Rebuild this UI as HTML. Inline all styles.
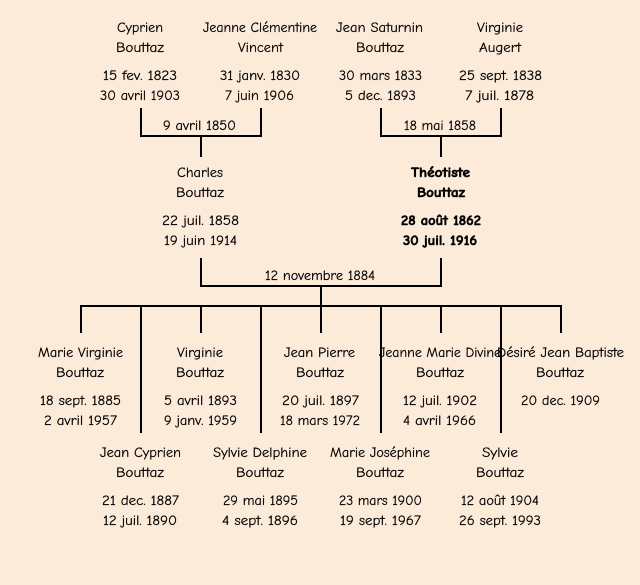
<!DOCTYPE html>
<html><head><meta charset="utf-8"><style>
html,body{margin:0;padding:0;background:#fdebd9}
svg{display:block}
text{font-family:"Comic Sans MS","Comic Neue","Liberation Sans",sans-serif;font-size:14px;fill:#000;stroke:#000;stroke-width:.2px;text-anchor:start}
.b{font-weight:bold;stroke-width:.55px}
</style></head><body>
<svg xmlns="http://www.w3.org/2000/svg" width="640" height="585" viewBox="0 0 640 585">
<rect width="640" height="585" fill="#fdebd9"/>
<g fill="#000">
<rect x="140" y="108" width="2" height="29"/><rect x="260" y="108" width="2" height="29"/><rect x="140" y="135" width="122" height="2"/><rect x="200" y="137" width="2" height="20"/>
<rect x="380" y="108" width="2" height="29"/><rect x="500" y="108" width="2" height="29"/><rect x="380" y="135" width="122" height="2"/><rect x="440" y="137" width="2" height="20"/>
<rect x="200" y="258" width="2" height="29"/><rect x="440" y="258" width="2" height="29"/><rect x="200" y="285" width="242" height="2"/><rect x="320" y="287" width="2" height="20"/>
<rect x="80" y="305" width="482" height="2"/>
<rect x="80" y="307" width="2" height="26"/><rect x="200" y="307" width="2" height="26"/><rect x="320" y="307" width="2" height="26"/><rect x="440" y="307" width="2" height="26"/><rect x="560" y="307" width="2" height="26"/>
<rect x="140" y="307" width="2" height="126"/><rect x="260" y="307" width="2" height="126"/><rect x="380" y="307" width="2" height="126"/><rect x="500" y="307" width="2" height="126"/>
</g>
<g>
<text x="117" y="32" textLength="46" lengthAdjust="spacingAndGlyphs">Cyprien</text>
<text x="116" y="52" textLength="48" lengthAdjust="spacingAndGlyphs">Bouttaz</text>
<text x="103" y="80" textLength="74" lengthAdjust="spacingAndGlyphs">15 fev. 1823</text>
<text x="100" y="100" textLength="80" lengthAdjust="spacingAndGlyphs">30 avril 1903</text>
<text x="203" y="32" textLength="114" lengthAdjust="spacingAndGlyphs">Jeanne Clémentine</text>
<text x="238" y="52" textLength="45" lengthAdjust="spacingAndGlyphs">Vincent</text>
<text x="220" y="80" textLength="80" lengthAdjust="spacingAndGlyphs">31 janv. 1830</text>
<text x="225" y="100" textLength="69" lengthAdjust="spacingAndGlyphs">7 juin 1906</text>
<text x="336" y="32" textLength="87" lengthAdjust="spacingAndGlyphs">Jean Saturnin</text>
<text x="356" y="52" textLength="48" lengthAdjust="spacingAndGlyphs">Bouttaz</text>
<text x="339" y="80" textLength="83" lengthAdjust="spacingAndGlyphs">30 mars 1833</text>
<text x="345" y="100" textLength="71" lengthAdjust="spacingAndGlyphs">5 dec. 1893</text>
<text x="477" y="32" textLength="46" lengthAdjust="spacingAndGlyphs">Virginie</text>
<text x="479" y="52" textLength="42" lengthAdjust="spacingAndGlyphs">Augert</text>
<text x="459" y="80" textLength="83" lengthAdjust="spacingAndGlyphs">25 sept. 1838</text>
<text x="465" y="100" textLength="69" lengthAdjust="spacingAndGlyphs">7 juil. 1878</text>
<text x="163" y="130" textLength="73" lengthAdjust="spacingAndGlyphs">9 avril 1850</text>
<text x="404" y="130" textLength="72" lengthAdjust="spacingAndGlyphs">18 mai 1858</text>
<text x="177" y="177" textLength="46" lengthAdjust="spacingAndGlyphs">Charles</text>
<text x="176" y="197" textLength="48" lengthAdjust="spacingAndGlyphs">Bouttaz</text>
<text x="162" y="225" textLength="77" lengthAdjust="spacingAndGlyphs">22 juil. 1858</text>
<text x="164" y="245" textLength="73" lengthAdjust="spacingAndGlyphs">19 juin 1914</text>
<text class="b" x="411" y="177" textLength="59" lengthAdjust="spacingAndGlyphs">Théotiste</text>
<text class="b" x="417" y="197" textLength="48" lengthAdjust="spacingAndGlyphs">Bouttaz</text>
<text class="b" x="401" y="225" textLength="80" lengthAdjust="spacingAndGlyphs">28 août 1862</text>
<text class="b" x="403" y="245" textLength="74" lengthAdjust="spacingAndGlyphs">30 juil. 1916</text>
<text x="265" y="280" textLength="110" lengthAdjust="spacingAndGlyphs">12 novembre 1884</text>
<text x="38" y="357" textLength="85" lengthAdjust="spacingAndGlyphs">Marie Virginie</text>
<text x="56" y="377" textLength="48" lengthAdjust="spacingAndGlyphs">Bouttaz</text>
<text x="40" y="405" textLength="81" lengthAdjust="spacingAndGlyphs">18 sept. 1885</text>
<text x="44" y="425" textLength="73" lengthAdjust="spacingAndGlyphs">2 avril 1957</text>
<text x="177" y="357" textLength="46" lengthAdjust="spacingAndGlyphs">Virginie</text>
<text x="176" y="377" textLength="48" lengthAdjust="spacingAndGlyphs">Bouttaz</text>
<text x="164" y="405" textLength="73" lengthAdjust="spacingAndGlyphs">5 avril 1893</text>
<text x="164" y="425" textLength="73" lengthAdjust="spacingAndGlyphs">9 janv. 1959</text>
<text x="284" y="357" textLength="71" lengthAdjust="spacingAndGlyphs">Jean Pierre</text>
<text x="296" y="377" textLength="48" lengthAdjust="spacingAndGlyphs">Bouttaz</text>
<text x="282" y="405" textLength="77" lengthAdjust="spacingAndGlyphs">20 juil. 1897</text>
<text x="280" y="425" textLength="80" lengthAdjust="spacingAndGlyphs">18 mars 1972</text>
<text x="379" y="357" textLength="122" lengthAdjust="spacingAndGlyphs">Jeanne Marie Divine</text>
<text x="416" y="377" textLength="48" lengthAdjust="spacingAndGlyphs">Bouttaz</text>
<text x="403" y="405" textLength="74" lengthAdjust="spacingAndGlyphs">12 juil. 1902</text>
<text x="403" y="425" textLength="73" lengthAdjust="spacingAndGlyphs">4 avril 1966</text>
<text x="497" y="357" textLength="127" lengthAdjust="spacingAndGlyphs">Désiré Jean Baptiste</text>
<text x="536" y="377" textLength="48" lengthAdjust="spacingAndGlyphs">Bouttaz</text>
<text x="521" y="405" textLength="79" lengthAdjust="spacingAndGlyphs">20 dec. 1909</text>
<text x="100" y="457" textLength="81" lengthAdjust="spacingAndGlyphs">Jean Cyprien</text>
<text x="116" y="477" textLength="48" lengthAdjust="spacingAndGlyphs">Bouttaz</text>
<text x="102" y="505" textLength="77" lengthAdjust="spacingAndGlyphs">21 dec. 1887</text>
<text x="103" y="525" textLength="74" lengthAdjust="spacingAndGlyphs">12 juil. 1890</text>
<text x="213" y="457" textLength="94" lengthAdjust="spacingAndGlyphs">Sylvie Delphine</text>
<text x="236" y="477" textLength="48" lengthAdjust="spacingAndGlyphs">Bouttaz</text>
<text x="223" y="505" textLength="75" lengthAdjust="spacingAndGlyphs">29 mai 1895</text>
<text x="222" y="525" textLength="76" lengthAdjust="spacingAndGlyphs">4 sept. 1896</text>
<text x="330" y="457" textLength="100" lengthAdjust="spacingAndGlyphs">Marie Joséphine</text>
<text x="356" y="477" textLength="48" lengthAdjust="spacingAndGlyphs">Bouttaz</text>
<text x="339" y="505" textLength="83" lengthAdjust="spacingAndGlyphs">23 mars 1900</text>
<text x="340" y="525" textLength="81" lengthAdjust="spacingAndGlyphs">19 sept. 1967</text>
<text x="482" y="457" textLength="36" lengthAdjust="spacingAndGlyphs">Sylvie</text>
<text x="476" y="477" textLength="48" lengthAdjust="spacingAndGlyphs">Bouttaz</text>
<text x="461" y="505" textLength="78" lengthAdjust="spacingAndGlyphs">12 août 1904</text>
<text x="459" y="525" textLength="82" lengthAdjust="spacingAndGlyphs">26 sept. 1993</text>
</g>
</svg>
</body></html>
